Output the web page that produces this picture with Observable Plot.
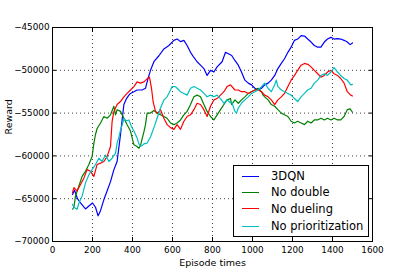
<!DOCTYPE html>
<html><head><meta charset="utf-8">
<script src="https://cdn.jsdelivr.net/npm/d3@7"></script>
<script src="https://cdn.jsdelivr.net/npm/@observablehq/plot@0.6"></script>
<style>
body{margin:0;background:#fff;font-family:"DejaVu Sans",sans-serif;}
#wrap{position:relative;width:415px;height:277px;}
#legend{position:absolute;left:233px;top:165px;width:134px;height:70px;border:1px solid #000;background:#fff;}
.sw{position:absolute;left:8px;width:17px;height:0;border-top:1px solid;}
.lb{position:absolute;left:37px;font-size:11.5px;line-height:14px;color:#000;white-space:nowrap;}
</style>
</head><body>
<div id="wrap"></div>
<script>
const series = ["3DQN", "No double", "No dueling", "No prioritization"];
const colors = ["#0000ff", "#008000", "#ff0000", "#00bfbf"];
const xTicks = [0, 200, 400, 600, 800, 1000, 1200, 1400, 1600];
const yTicks = [-70000, -65000, -60000, -55000, -50000, -45000];

const dqnEpisodes = [100,110,125,140,165,185,200,215,228,240,257,273,290,307,323,332,340,348,357,370,382,390,407,423,448,465,477,490,507,532,557,582,607,623,640,657,673,690,707,723,740,757,773,790,807,823,848,865,882,896,912,929,945,962,979,995,1012,1028,1045,1061,1078,1094,1111,1127,1144,1160,1177,1193,1210,1226,1243,1260,1276,1293,1309,1326,1342,1359,1375,1392,1408,1425,1441,1458,1474,1488,1500];
const dqnReward = [-64500,-64000,-65000,-65500,-66200,-65800,-65500,-66000,-67000,-66400,-65100,-64100,-63000,-61600,-60650,-59000,-57500,-55800,-54000,-53300,-52900,-52700,-52500,-52300,-52300,-52100,-51000,-50000,-49000,-48300,-47500,-47100,-46500,-46350,-46650,-46500,-47100,-47900,-48500,-49000,-49400,-49800,-50600,-50000,-50200,-49600,-49000,-47900,-48100,-48270,-48850,-49400,-50200,-51150,-51500,-51700,-52100,-52300,-52100,-51700,-51500,-51150,-50600,-49800,-49200,-48650,-47900,-47300,-46500,-46350,-45950,-46000,-46350,-46700,-47100,-47300,-47300,-46700,-46350,-46150,-46350,-46300,-46350,-46500,-46700,-47000,-46800];

const noDoubleEpisodes = [100,107,115,132,148,165,182,198,207,215,223,240,257,273,290,307,315,323,340,357,373,390,407,423,432,440,448,457,465,473,490,507,523,540,557,573,590,607,623,640,657,673,690,707,723,740,757,773,790,807,823,840,857,873,890,896,912,929,945,962,979,995,1012,1028,1045,1053,1061,1078,1094,1111,1127,1144,1160,1177,1193,1210,1226,1243,1260,1276,1293,1309,1326,1342,1359,1375,1392,1408,1425,1441,1458,1474,1488,1500];
const noDoubleReward = [-66230,-66000,-64700,-63500,-62400,-61800,-61000,-60080,-58500,-57500,-56800,-56150,-55400,-55600,-55200,-54200,-55200,-54600,-54800,-55600,-56350,-57100,-58700,-58900,-59100,-58800,-58000,-57200,-56350,-55000,-55000,-54700,-55000,-55200,-55400,-55600,-56150,-56350,-56150,-55800,-55200,-54800,-54000,-53100,-52900,-53100,-54000,-54800,-55400,-55800,-55200,-54600,-54000,-53460,-53300,-54000,-53460,-53850,-53460,-53100,-52700,-52500,-52300,-52100,-52500,-52900,-53100,-53460,-54000,-54200,-54600,-55000,-55200,-55400,-55950,-56150,-55950,-56150,-56350,-55950,-56150,-55800,-55800,-55600,-55800,-55600,-55800,-55600,-55800,-55800,-55400,-54600,-54500,-54900];

const noDuelingEpisodes = [100,107,123,140,157,173,190,207,223,240,257,273,290,298,307,323,340,357,373,390,407,423,440,457,473,485,495,503,515,527,540,557,573,590,607,623,640,657,673,690,707,723,740,757,773,790,807,823,840,857,873,890,912,929,945,962,979,995,1012,1028,1045,1061,1078,1094,1111,1127,1144,1160,1177,1193,1210,1226,1243,1260,1276,1293,1309,1326,1342,1359,1375,1392,1408,1425,1441,1458,1474,1491,1500];
const noDuelingReward = [-64300,-63700,-64100,-63350,-62600,-61600,-61800,-62400,-61000,-60850,-60650,-60080,-58900,-56000,-54800,-54000,-53650,-53100,-52700,-52300,-51900,-51350,-51500,-51350,-51000,-50800,-52100,-53650,-54800,-55000,-54600,-55600,-56350,-56700,-56900,-56350,-56900,-55950,-55400,-55200,-54600,-53850,-54000,-54600,-55400,-54200,-53460,-53300,-52900,-52500,-51900,-51700,-52300,-52300,-52500,-52500,-52700,-52500,-52300,-52300,-52500,-52900,-53100,-53460,-54000,-53460,-53100,-52700,-51900,-51150,-50600,-50000,-49400,-49200,-49300,-49600,-50000,-50400,-50800,-50600,-50200,-50000,-50400,-50600,-50960,-51500,-52500,-52900,-53000];

const noPrioEpisodes = [100,107,123,132,148,165,182,198,215,232,248,265,282,298,315,323,332,340,348,357,370,382,395,407,423,432,440,448,457,473,490,507,523,540,557,573,590,598,615,623,640,657,673,690,707,723,740,757,773,790,807,823,840,857,873,890,896,912,920,929,945,962,979,995,1012,1028,1045,1061,1078,1094,1111,1119,1127,1144,1160,1177,1193,1210,1226,1243,1260,1276,1293,1309,1326,1342,1359,1375,1392,1408,1425,1441,1458,1474,1491,1500];
const noPrioReward = [-65650,-66000,-66230,-65500,-64700,-63150,-62200,-61600,-61000,-60270,-60650,-59900,-60650,-60270,-59700,-58500,-57800,-57000,-56400,-55700,-55900,-55800,-56600,-57100,-57900,-58600,-58850,-58800,-58600,-58500,-57800,-56700,-55600,-54400,-53460,-53100,-52300,-51900,-51900,-52100,-52500,-52700,-52900,-52100,-51900,-52100,-52300,-52700,-53100,-52900,-53100,-52900,-53300,-53850,-53460,-53800,-53700,-54800,-55000,-54400,-53850,-53460,-53100,-52700,-52500,-52300,-51900,-51500,-52100,-52500,-51700,-51150,-51900,-52300,-52500,-52700,-52900,-53300,-53650,-53100,-52700,-52300,-52100,-51500,-51150,-50600,-50400,-50600,-50200,-49700,-50200,-50600,-50960,-51150,-51700,-51650];

const episodesList = [dqnEpisodes, noDoubleEpisodes, noDuelingEpisodes, noPrioEpisodes];
const rewardList = [dqnReward, noDoubleReward, noDuelingReward, noPrioReward];
const rows = [];
series.forEach((s, i) => episodesList[i].forEach((e, j) => rows.push({series: s, episode: e, reward: rewardList[i][j]})));

const fmt = d3.format("d");
const chart = Plot.plot({
  width: 415, height: 277,
  marginLeft: 52, marginRight: 43, marginTop: 27, marginBottom: 36,
  style: {fontFamily: "'DejaVu Sans', sans-serif", fontSize: "8.8px", color: "black", background: "white"},
  x: {domain: [0, 1600]},
  y: {domain: [-70000, -45000]},
  color: {domain: series, range: colors},
  marks: [
    Plot.gridX(xTicks, {stroke: "black", strokeOpacity: 0.75, strokeDasharray: "1,3"}),
    Plot.gridY(yTicks, {stroke: "black", strokeOpacity: 0.75, strokeDasharray: "1,3"}),
    Plot.line(rows, {x: "episode", y: "reward", z: "series", stroke: "series", strokeWidth: 1.2}),
    Plot.frame({stroke: "black"}),
    Plot.axisX(xTicks, {anchor: "bottom", tickSize: -4, tickPadding: 9, tickFormat: fmt, label: null}),
    Plot.axisX(xTicks, {anchor: "top", tickSize: -4, tickFormat: () => "", label: null}),
    Plot.axisY(yTicks, {anchor: "left", tickSize: -4, tickPadding: 7, tickFormat: fmt, label: null}),
    Plot.axisY(yTicks, {anchor: "right", tickSize: -4, tickFormat: () => "", label: null}),
    Plot.text(["Episode times"], {frameAnchor: "bottom", dy: 24, fontSize: 9.5}),
    Plot.text(["Reward"], {frameAnchor: "left", dx: -44, rotate: -90, fontSize: 9.5})
  ]
});
const wrap = document.getElementById("wrap");
wrap.appendChild(chart);

const legend = document.createElement("div");
legend.id = "legend";
const rowCenters = [10, 26, 42.5, 60];
series.forEach((s, i) => {
  const sw = document.createElement("div");
  sw.className = "sw";
  sw.style.top = (rowCenters[i] - 0.5) + "px";
  sw.style.borderTopColor = colors[i];
  legend.appendChild(sw);
  const lb = document.createElement("div");
  lb.className = "lb";
  lb.style.top = (rowCenters[i] - 7) + "px";
  lb.textContent = s;
  legend.appendChild(lb);
});
wrap.appendChild(legend);
</script>
</body></html>
